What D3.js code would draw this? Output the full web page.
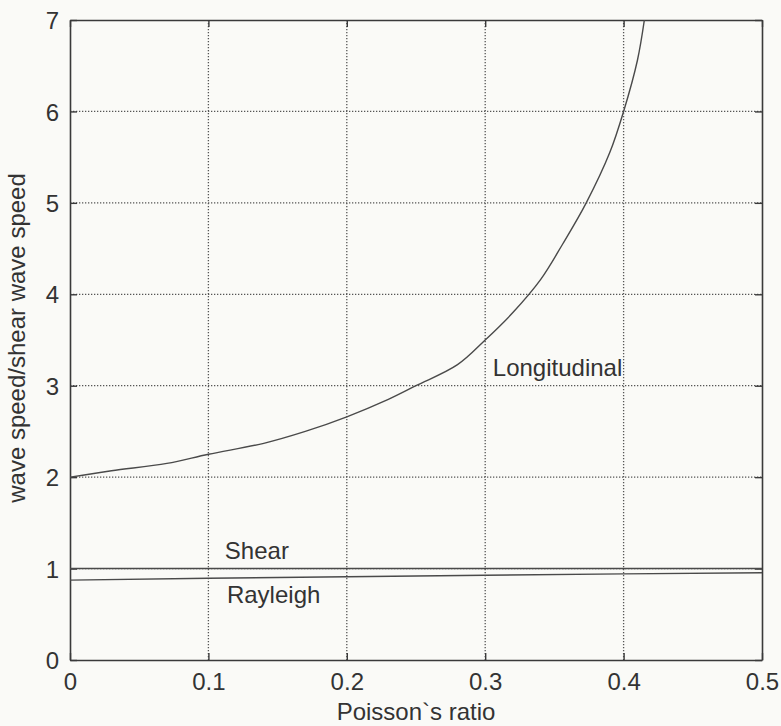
<!DOCTYPE html>
<html>
<head>
<meta charset="utf-8">
<script src="https://cdn.jsdelivr.net/npm/d3@7"></script>
<style>
  body { margin: 0; background: #fafaf7; }
  svg { display: block; }
  text { font-family: "Liberation Sans", Arial, sans-serif; fill: #333; }
</style>
</head>
<body>
<svg></svg>
<script>
// values
var poisson = [0, 0.03, 0.07, 0.1, 0.14, 0.17, 0.2, 0.23, 0.25, 0.28, 0.3, 0.32, 0.34, 0.356, 0.373, 0.39, 0.4, 0.41, 0.415];
var longitudinal = [2.0, 2.07, 2.15, 2.25, 2.37, 2.5, 2.66, 2.85, 3.0, 3.23, 3.5, 3.8, 4.16, 4.55, 5.0, 5.55, 6.0, 6.56, 7.0];
var shearX = [0, 0.5];
var shear = [1, 1];
var rayleighX = [0, 0.1, 0.2, 0.25, 0.3, 0.4, 0.5];
var rayleigh = [0.874, 0.894, 0.911, 0.919, 0.927, 0.942, 0.955];
var xTicks = [0, 0.1, 0.2, 0.3, 0.4, 0.5];
var yTicks = [0, 1, 2, 3, 4, 5, 6, 7];

var width = 781, height = 726;
var plotLeft = 70, plotRight = 762, plotTop = 20, plotBottom = 660;

var svg = d3.select("svg").attr("width", width).attr("height", height);

var x = d3.scaleLinear().domain([0, 0.5]).range([plotLeft, plotRight]);
var y = d3.scaleLinear().domain([0, 7]).range([plotBottom, plotTop]);

// dotted grid
svg.append("g").selectAll("line").data(xTicks.slice(1, -1)).enter()
    .append("line")
    .attr("x1", function (d) { return x(d); })
    .attr("x2", function (d) { return x(d); })
    .attr("y1", plotTop).attr("y2", plotBottom)
    .attr("stroke", "#555").attr("stroke-width", 1.3)
    .attr("stroke-dasharray", "1.3,1.7");
svg.append("g").selectAll("line").data(yTicks.slice(1, -1)).enter()
    .append("line")
    .attr("y1", function (d) { return y(d); })
    .attr("y2", function (d) { return y(d); })
    .attr("x1", plotLeft).attr("x2", plotRight)
    .attr("stroke", "#555").attr("stroke-width", 1.3)
    .attr("stroke-dasharray", "1.3,1.7");

// axes, ticks pointing inward
var gx = svg.append("g").attr("transform", "translate(0," + plotBottom + ")")
    .call(d3.axisBottom(x).tickValues(xTicks).tickSizeInner(-7).tickSizeOuter(0)
        .tickFormat(function (d) { return d; }));
gx.selectAll("text").attr("y", 30).attr("dy", 0);

var gy = svg.append("g").attr("transform", "translate(" + plotLeft + ",0)")
    .call(d3.axisLeft(y).tickValues(yTicks).tickSizeInner(-7).tickSizeOuter(0)
        .tickFormat(d3.format("d")));
gy.selectAll("text").attr("x", -11).attr("dy", "0.36em");

svg.append("g").attr("transform", "translate(0," + plotTop + ")")
    .call(d3.axisTop(x).tickValues(xTicks).tickSizeInner(-7).tickSizeOuter(0).tickFormat(""));
svg.append("g").attr("transform", "translate(" + plotRight + ",0)")
    .call(d3.axisRight(y).tickValues(yTicks).tickSizeInner(-7).tickSizeOuter(0).tickFormat(""));

svg.selectAll(".domain").attr("stroke", "#3a3a3a").attr("stroke-width", 1.6);
svg.selectAll(".tick line").attr("stroke", "#3a3a3a").attr("stroke-width", 1.4);
svg.selectAll(".tick text").attr("font-size", 24).attr("fill", "#3a3a3a")
    .attr("font-family", "'Liberation Sans', Arial, sans-serif");

// curves
svg.append("clipPath").attr("id", "plot").append("rect")
    .attr("x", plotLeft).attr("y", plotTop)
    .attr("width", plotRight - plotLeft).attr("height", plotBottom - plotTop);

var line = d3.line()
    .x(function (d) { return x(d[0]); })
    .y(function (d) { return y(d[1]); });

var series = [
    { pts: d3.zip(poisson, longitudinal), curve: d3.curveCatmullRom },
    { pts: d3.zip(shearX, shear), curve: d3.curveLinear },
    { pts: d3.zip(rayleighX, rayleigh), curve: d3.curveLinear }
];
svg.append("g").attr("clip-path", "url(#plot)")
    .selectAll("path").data(series).enter()
    .append("path")
    .attr("d", function (d) { return line.curve(d.curve)(d.pts); })
    .attr("fill", "none")
    .attr("stroke", "#4a4a4a")
    .attr("stroke-width", 1.4);

// curve labels
svg.append("text").attr("x", x(0.3055)).attr("y", y(3.11)).attr("font-size", 24).text("Longitudinal");
svg.append("text").attr("x", x(0.1119)).attr("y", y(1.11)).attr("font-size", 24).text("Shear");
svg.append("text").attr("x", x(0.1134)).attr("y", y(0.625)).attr("font-size", 24).text("Rayleigh");

// axis titles
svg.append("text")
    .attr("x", (plotLeft + plotRight) / 2).attr("y", 720)
    .attr("text-anchor", "middle").attr("font-size", 24)
    .text("Poisson`s ratio");
svg.append("text")
    .attr("transform", "translate(25," + ((plotTop + plotBottom) / 2 - 2) + ") rotate(-90)")
    .attr("text-anchor", "middle").attr("font-size", 24)
    .text("wave speed/shear wave speed");
</script>
</body>
</html>
